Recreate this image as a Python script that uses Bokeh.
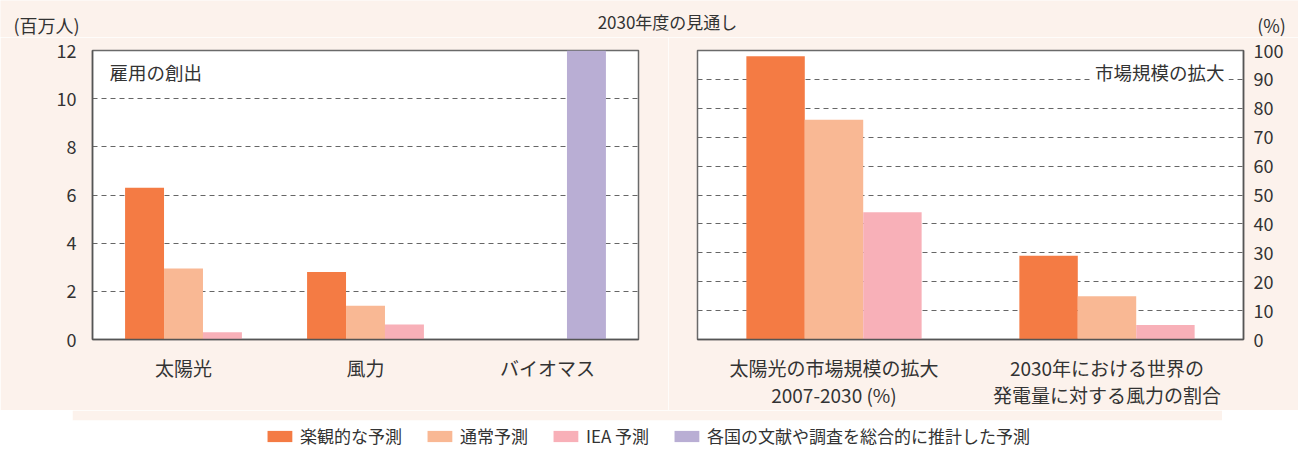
from bokeh.plotting import figure
from bokeh.layouts import column, row
from bokeh.models import (FactorRange, Range1d, FixedTicker, Label, Legend,
                          LegendItem, ColumnDataSource, Spacer)
from bokeh.transform import dodge
from bokeh.embed import file_html
from bokeh.resources import INLINE

FONT = "Noto Sans CJK JP"
BG = "#FCF2EC"
TXT = "#333333"
C_OPT = "#F47B44"
C_NORM = "#F9B894"
C_IEA = "#F8B0B8"
C_EST = "#B9AED4"

# ---------------- data ----------------
title_text = "2030年度の見通し"
left_unit = "(百万人)"
right_unit = "(%)"
left_panel_label = "雇用の創出"
right_panel_label = "市場規模の拡大"

jobs_categories = ["太陽光", "風力", "バイオマス"]
jobs_opt_cats = ["太陽光", "風力"]
jobs_optimistic = [6.3, 2.8]
jobs_normal = [2.95, 1.4]
jobs_iea = [0.3, 0.62]
jobs_est_cats = ["バイオマス"]
jobs_estimate = [12.0]
jobs_ticks = [0, 2, 4, 6, 8, 10, 12]

market_categories = ["太陽光の市場規模の拡大\n2007-2030 (%)",
                     "2030年における世界の\n発電量に対する風力の割合"]
market_optimistic = [98, 29]
market_normal = [76, 15]
market_iea = [44, 5]
market_ticks = [0, 10, 20, 30, 40, 50, 60, 70, 80, 90, 100]

legend_labels = ["楽観的な予測", "通常予測", "IEA 予測", "各国の文献や調査を総合的に推計した予測"]

BW = 0.214
GRID_DASH = "5 4"
HEADER_H = 37
MAIN_H = 373
LEGEND_H = 43


def style_main(p):
    p.xgrid.visible = False
    p.ygrid.grid_line_color = "#666666"
    p.ygrid.grid_line_dash = GRID_DASH
    p.ygrid.grid_line_width = 1
    p.outline_line_color = "#6a6a6a"
    p.outline_line_width = 1.5
    for ax in (p.xaxis, p.yaxis):
        ax.axis_line_color = "#555555"
        ax.axis_line_width = 1.5
        ax.major_tick_line_color = None
        ax.minor_tick_line_color = None
        ax.major_label_text_font = FONT
        ax.major_label_text_color = TXT
    p.yaxis.major_label_text_font_size = "18px"
    p.xaxis.major_label_text_font_size = "19px"
    p.xaxis.major_label_standoff = 8
    p.xaxis.major_label_text_line_height = 1.0


# ---------------- header ----------------
hf = figure(width=1298, height=HEADER_H, x_range=Range1d(0, 1298), y_range=Range1d(0, HEADER_H),
            output_backend="svg", toolbar_location=None,
            x_axis_location=None, y_axis_location=None,
            min_border=0, min_border_left=0, min_border_right=0,
            min_border_top=0, min_border_bottom=0,
            background_fill_color=BG, border_fill_color=BG, outline_line_color=None)
hf.grid.visible = False
hf.add_layout(Label(x=13, y=HEADER_H - 24, text=left_unit, text_font=FONT, text_font_size="18px",
                    text_color=TXT, text_baseline="middle", text_align="left"))
hf.add_layout(Label(x=667, y=HEADER_H - 21, text=title_text, text_font=FONT, text_font_size="17px",
                    text_color=TXT, text_baseline="middle", text_align="center"))
hf.add_layout(Label(x=1271, y=HEADER_H - 24, text=right_unit, text_font=FONT, text_font_size="18px",
                    text_color=TXT, text_baseline="middle", text_align="center"))

# ---------------- left panel ----------------
p1 = figure(width=668, height=MAIN_H, x_range=FactorRange(*jobs_categories),
            y_range=Range1d(0, 12), output_backend="svg", toolbar_location=None,
            min_border_left=92, min_border_right=30, min_border_top=13,
            min_border_bottom=70, background_fill_color="white", border_fill_color=BG)
style_main(p1)
p1.yaxis.ticker = FixedTicker(ticks=jobs_ticks)
p1.ygrid.ticker = FixedTicker(ticks=jobs_ticks[1:-1])
p1.yaxis.major_label_standoff = 10

s_opt = ColumnDataSource(dict(cat=jobs_opt_cats, v=jobs_optimistic))
s_norm = ColumnDataSource(dict(cat=jobs_opt_cats, v=jobs_normal))
s_iea = ColumnDataSource(dict(cat=jobs_opt_cats, v=jobs_iea))
s_est = ColumnDataSource(dict(cat=jobs_est_cats, v=jobs_estimate))
p1.vbar(x=dodge("cat", -BW, range=p1.x_range), top="v", width=BW, source=s_opt,
        fill_color=C_OPT, line_color=None)
p1.vbar(x=dodge("cat", 0, range=p1.x_range), top="v", width=BW, source=s_norm,
        fill_color=C_NORM, line_color=None)
p1.vbar(x=dodge("cat", BW, range=p1.x_range), top="v", width=BW, source=s_iea,
        fill_color=C_IEA, line_color=None)
p1.vbar(x=dodge("cat", BW, range=p1.x_range), top="v", width=BW, source=s_est,
        fill_color=C_EST, line_color=None)
p1.add_layout(Label(x=0, y=11.1, x_offset=17, text=left_panel_label, text_font=FONT,
                    text_font_size="18.5px", text_color=TXT, text_baseline="middle"))

# ---------------- right panel ----------------
p2 = figure(width=630, height=MAIN_H, x_range=FactorRange(*market_categories),
            y_range=Range1d(0, 100), output_backend="svg", toolbar_location=None,
            y_axis_location="right",
            min_border_left=29, min_border_right=55, min_border_top=13,
            min_border_bottom=70, background_fill_color="white", border_fill_color=BG)
style_main(p2)
p2.yaxis.ticker = FixedTicker(ticks=market_ticks)
p2.ygrid.ticker = FixedTicker(ticks=market_ticks[1:-1])
p2.yaxis.major_label_standoff = 4

m_opt = ColumnDataSource(dict(cat=market_categories, v=market_optimistic))
m_norm = ColumnDataSource(dict(cat=market_categories, v=market_normal))
m_iea = ColumnDataSource(dict(cat=market_categories, v=market_iea))
p2.vbar(x=dodge("cat", -BW, range=p2.x_range), top="v", width=BW, source=m_opt,
        fill_color=C_OPT, line_color=None)
p2.vbar(x=dodge("cat", 0, range=p2.x_range), top="v", width=BW, source=m_norm,
        fill_color=C_NORM, line_color=None)
p2.vbar(x=dodge("cat", BW, range=p2.x_range), top="v", width=BW, source=m_iea,
        fill_color=C_IEA, line_color=None)
p2.add_layout(Label(x=2, y=92.4, x_offset=-15, text=right_panel_label, text_font=FONT,
                    text_font_size="18.5px", text_color=TXT, text_baseline="middle",
                    text_align="right", background_fill_color="white", padding=4))

# ---------------- legend ----------------
lf = figure(width=1150, height=LEGEND_H, x_range=FactorRange(*jobs_categories), y_range=Range1d(0, 1),
            output_backend="svg", toolbar_location=None,
            x_axis_location=None, y_axis_location=None,
            min_border_left=0, min_border_right=0, min_border_top=10, min_border_bottom=0,
            background_fill_color="white", border_fill_color=BG, outline_line_color=None)
lf.grid.visible = False
items = []
for lab, col, src in zip(legend_labels, [C_OPT, C_NORM, C_IEA, C_EST],
                         [s_opt, s_norm, s_iea, s_est]):
    r = lf.vbar(x="cat", top="v", width=BW, source=src, fill_color=col, line_color=None)
    r.visible = False
    items.append(LegendItem(label=lab, renderers=[r]))
leg = Legend(items=items, orientation="horizontal", location="bottom_center",
             spacing=22, label_standoff=5, glyph_width=31, glyph_height=14,
             label_height=14, padding=0, margin=5, border_line_color=None,
             background_fill_alpha=0, label_text_font=FONT, label_text_font_size="17px",
             label_text_color=TXT, click_policy="none")
lf.add_layout(leg)

legend_row = row(Spacer(width=72, height=LEGEND_H), lf, Spacer(width=76, height=LEGEND_H))
layout = column(hf, row(p1, p2), legend_row)

html = file_html(layout, INLINE, title="2030年度の見通し")
html = html.replace("<body>", '<body style="background-color:%s;">' % BG, 1)
open("out.html", "w").write(html)
